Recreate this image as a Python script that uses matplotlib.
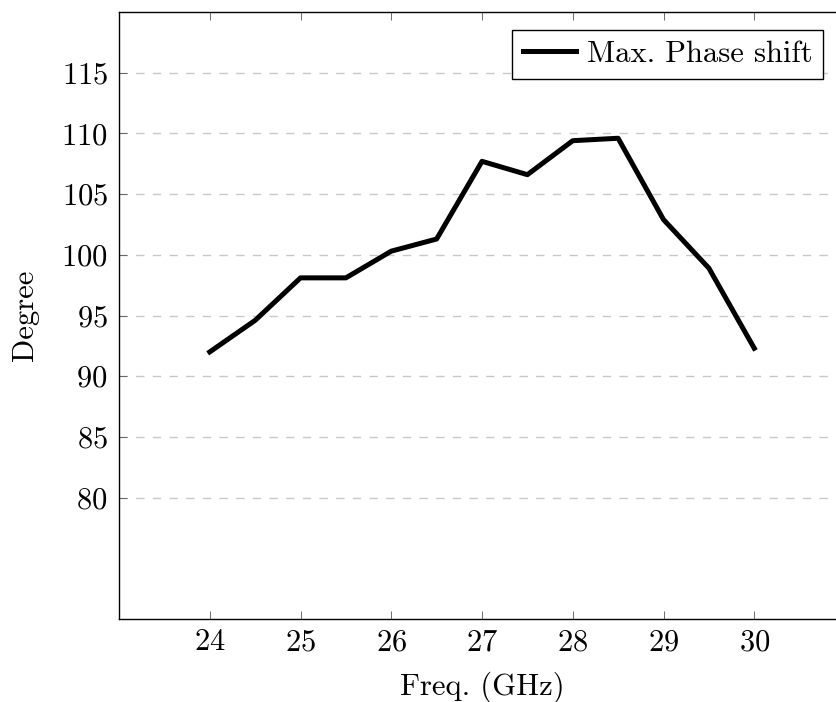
import numpy as np
import matplotlib
matplotlib.use("Agg")
import matplotlib.pyplot as plt

plt.rcParams['font.family'] = 'serif'
plt.rcParams['font.serif'] = ['cmr10']
plt.rcParams['mathtext.fontset'] = 'cm'
plt.rcParams['axes.formatter.use_mathtext'] = True

freq = [24, 24.5, 25, 25.5, 26, 26.5, 27, 27.5, 28, 28.5, 29, 29.5, 30]
phase = [92.0, 94.6, 98.1, 98.1, 100.3, 101.3, 107.7, 106.6, 109.4, 109.6, 102.9, 98.9, 92.3]
yticks = [80, 85, 90, 95, 100, 105, 110, 115]
xticks = [24, 25, 26, 27, 28, 29, 30]

fs = 22

fig = plt.figure(figsize=(8.37, 7.02), dpi=100)
ax = fig.add_axes([119/837, 1 - 619/702, 726/837, 607/702])

ax.plot(freq, phase, color='black', linewidth=3.6, label='Max. Phase shift')
ax.set_xlim(23, 31)
ax.set_ylim(70, 120)
ax.set_xticks(xticks)
ax.set_yticks(yticks)
ax.tick_params(direction='in', top=True, right=True, labelsize=fs, length=6, width=0.6, color='#555555')
ax.tick_params(axis='x', pad=7)
ax.tick_params(axis='y', pad=8)
ax.yaxis.grid(True, linestyle=(0, (6, 6)), color='#c8c8c8', linewidth=1)
ax.set_axisbelow(True)
for s in ax.spines.values():
    s.set_linewidth(1)

ax.set_xlabel('Freq. (GHz)', fontsize=fs, labelpad=11)
ax.set_ylabel('Degree', fontsize=fs, labelpad=16)

leg = ax.legend(loc='upper right', bbox_to_anchor=(704/726, 589/607), borderaxespad=0, fontsize=fs,
                fancybox=False, edgecolor='black', framealpha=1, handlelength=1.75, borderpad=0.35,
                handletextpad=0.35)
leg.get_frame().set_linewidth(1)

fig.savefig('out.png', dpi=100)
